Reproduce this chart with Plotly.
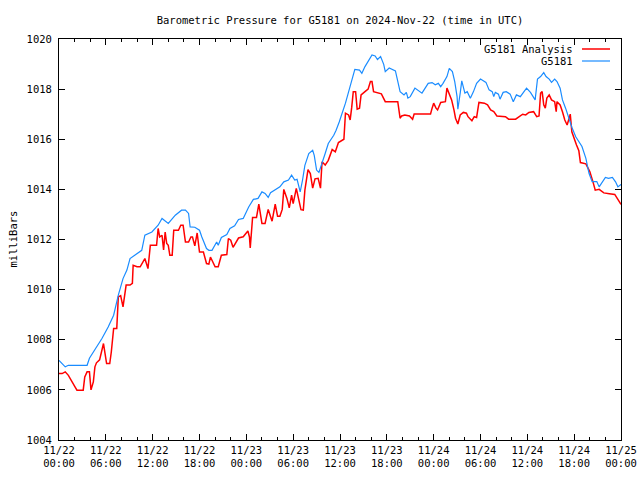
import pandas as pd
import plotly.graph_objects as go

title_text = "Barometric Pressure for G5181 on 2024-Nov-22 (time in UTC)"
start = pd.Timestamp("2024-11-22 00:00")

obs_hours = [0, 0.8, 1.2, 3.6, 3.9, 4.8, 5.5, 6.3, 7.0, 7.6, 8.2, 8.7, 9.1, 9.7, 10.6, 11.0, 11.9,
             12.7, 13.2, 14.0, 14.9, 15.7, 16.2, 16.6, 16.8, 17.4, 18.0, 18.3, 18.9, 19.2, 19.6,
             20.2, 20.4, 20.8, 21.5, 21.9, 22.5, 23.0, 23.6, 24.3, 24.9, 25.5, 26.0, 26.4, 26.8,
             27.1, 27.7, 28.3, 28.8, 29.4, 29.8, 30.2, 30.5, 30.9, 31.2, 31.5, 32.0, 32.5, 32.7,
             33.0, 33.3, 33.7, 34.1, 34.5, 35.2, 35.5, 35.9, 36.7, 37.3, 37.9, 38.5, 38.8, 39.2,
             39.7, 40.1, 40.5, 40.8, 41.2, 41.6, 41.8, 42.3, 43.1, 43.3, 43.7, 44.2, 44.5, 44.7,
             45.0, 45.6, 46.5, 47.3, 47.8, 48.2, 48.6, 48.9, 49.2, 49.7, 50.0, 50.4, 50.7, 51.0,
             51.1, 51.4, 51.6, 52.0, 52.3, 52.7, 53.1, 53.5, 54.0, 54.7, 55.1, 55.5, 55.7, 55.9,
             56.3, 56.5, 56.9, 57.3, 57.8, 58.2, 58.6, 59.1, 59.5, 59.9, 60.4, 60.8, 61.0, 61.3,
             61.7, 62.1, 62.4, 62.8, 63.1, 63.5, 63.8, 64.2, 64.5, 64.9, 65.3, 65.7, 66.2, 66.6,
             67.0, 67.5, 67.9, 68.3, 68.9, 69.2, 69.6, 70.0, 70.4, 70.9, 71.3, 71.6, 72.0]
obs_values = [1007.18, 1006.92, 1006.98, 1006.98, 1007.26, 1007.71, 1008.05, 1008.51, 1008.98,
              1009.78, 1010.44, 1010.78, 1011.24, 1011.37, 1011.57, 1012.17, 1012.30, 1012.57,
              1012.84, 1012.64, 1012.97, 1013.17, 1013.17, 1013.04, 1012.50, 1012.49, 1012.37,
              1012.10, 1011.64, 1011.57, 1011.57, 1011.90, 1011.77, 1012.08, 1012.20, 1012.44,
              1012.55, 1012.80, 1012.84, 1013.30, 1013.60, 1013.64, 1013.90, 1013.84, 1013.68,
              1013.87, 1014.00, 1014.10, 1014.30, 1014.37, 1014.57, 1014.37, 1014.40, 1013.90,
              1014.37, 1014.96, 1015.43, 1015.56, 1015.36, 1014.77, 1014.68, 1015.03, 1015.43,
              1015.83, 1016.16, 1016.36, 1016.69, 1017.44, 1018.17, 1018.79, 1018.76, 1018.63,
              1018.90, 1019.14, 1019.36, 1019.32, 1019.18, 1019.30, 1018.99, 1018.70, 1018.84,
              1018.73, 1018.43, 1017.90, 1017.77, 1017.87, 1017.64, 1017.70, 1018.04, 1017.84,
              1018.23, 1018.26, 1018.17, 1018.23, 1018.10, 1018.23, 1018.50, 1018.83, 1018.70,
              1018.30, 1017.70, 1017.20, 1017.84, 1018.33, 1017.84, 1017.90, 1017.64, 1017.90,
              1018.23, 1018.40, 1018.27, 1017.97, 1017.90, 1017.70, 1017.87, 1017.80, 1017.60,
              1017.87, 1017.90, 1017.80, 1017.50, 1017.77, 1017.70, 1017.87, 1018.04, 1017.87,
              1017.64, 1017.57, 1018.40, 1018.50, 1018.66, 1018.50, 1018.40, 1018.27, 1018.40,
              1018.30, 1018.04, 1017.57, 1017.24, 1016.84, 1016.48, 1016.10, 1015.90, 1015.71,
              1015.24, 1014.64, 1014.31, 1014.31, 1014.10, 1014.27, 1014.48, 1014.44, 1014.48,
              1014.30, 1014.10, 1014.20]

ana_hours = [0, 0.4, 0.8, 1.2, 2.05, 2.3, 3.1, 3.3, 3.6, 3.9, 4.1, 4.4, 4.6, 4.8, 5.2, 5.7, 5.9,
             6.1, 6.5, 6.7, 7.0, 7.4, 7.6, 7.9, 8.2, 8.4, 8.6, 9.1, 9.4, 9.5, 10.0, 10.4, 10.8,
             11.0, 11.2, 11.4, 11.7, 12.3, 12.5, 12.7, 12.9, 13.2, 13.4, 13.6, 13.8, 14.0, 14.2,
             14.5, 14.7, 15.3, 15.6, 15.9, 16.2, 16.6, 16.9, 17.1, 17.4, 17.7, 18.0, 18.5, 18.9,
             19.2, 19.4, 20.0, 20.4, 20.8, 21.5, 21.7, 22.0, 22.3, 23.0, 23.6, 24.2, 24.4, 24.5,
             24.8, 25.3, 25.6, 26.0, 26.4, 26.8, 27.3, 27.7, 28.0, 28.3, 28.6, 28.8, 29.2, 29.5,
             29.8, 30.0, 30.4, 30.7, 31.0, 31.3, 31.5, 31.9, 32.2, 32.5, 32.8, 33.2, 33.5, 33.7,
             34.1, 34.5, 35.0, 35.4, 35.8, 36.5, 36.7, 37.1, 37.3, 37.5, 37.7, 38.0, 38.2, 38.5,
             38.7, 39.2, 39.6, 39.9, 40.1, 40.3, 40.9, 41.3, 41.8, 42.9, 43.4, 43.7, 43.9, 44.3,
             44.9, 45.3, 45.5, 46.2, 47.6, 47.8, 48.0, 48.3, 48.5, 48.9, 49.3, 49.5, 49.7, 49.9,
             50.3, 50.6, 50.8, 51.1, 51.4, 51.8, 52.2, 52.4, 52.9, 53.2, 53.5, 53.8, 54.5, 54.9,
             55.3, 55.7, 56.1, 57.2, 57.6, 58.5, 59.0, 59.4, 59.8, 60.2, 60.8, 61.2, 61.5, 61.7,
             61.9, 62.1, 62.3, 62.5, 62.8, 63.1, 63.5, 63.7, 63.8, 64.2, 64.5, 64.8, 65.1, 65.4,
             65.5, 65.7, 66.0, 66.3, 66.6, 66.8, 67.5, 68.0, 68.4, 68.7, 69.2, 69.8, 70.5, 71.2,
             71.6, 72.0]
ana_values = [1006.65, 1006.65, 1006.72, 1006.58, 1006.12, 1005.99, 1005.99, 1006.52, 1006.72,
              1006.72, 1006.00, 1006.32, 1006.92, 1007.08, 1007.20, 1007.85, 1007.45, 1007.05,
              1007.05, 1007.51, 1008.45, 1008.45, 1009.71, 1009.76, 1009.31, 1009.71, 1010.18,
              1010.18, 1010.25, 1010.97, 1010.91, 1010.91, 1011.17, 1011.24, 1011.04, 1010.84,
              1011.77, 1011.77, 1011.77, 1012.44, 1012.10, 1012.17, 1011.58, 1012.30, 1011.84,
              1011.77, 1011.37, 1011.37, 1012.37, 1012.37, 1012.57, 1012.57, 1011.90, 1011.90,
              1012.10, 1012.10, 1011.75, 1012.26, 1011.50, 1011.50, 1011.04, 1011.02, 1011.30,
              1010.91, 1010.91, 1011.37, 1011.40, 1012.04, 1011.97, 1011.69, 1012.06, 1012.11,
              1012.34, 1012.10, 1011.66, 1012.88, 1012.88, 1013.41, 1012.64, 1012.64, 1013.20,
              1012.73, 1013.41, 1012.93, 1012.93, 1013.20, 1014.00, 1013.64, 1013.26, 1013.77,
              1013.43, 1014.04, 1013.57, 1013.19, 1013.17, 1013.97, 1014.79, 1014.63, 1014.05,
              1014.42, 1014.44, 1014.05, 1015.10, 1014.97, 1015.16, 1015.59, 1015.50, 1015.87,
              1016.00, 1017.04, 1016.97, 1016.77, 1017.27, 1017.90, 1017.90, 1017.20, 1017.24,
              1017.77, 1017.90, 1018.00, 1018.30, 1018.30, 1017.90, 1017.84, 1017.81, 1017.50,
              1017.50, 1017.50, 1016.84, 1016.93, 1016.97, 1016.93, 1016.80, 1017.01, 1017.01,
              1017.01, 1017.24, 1017.44, 1017.24, 1017.17, 1017.47, 1017.50, 1017.50, 1018.04,
              1017.87, 1017.57, 1017.17, 1016.84, 1016.61, 1016.97, 1017.07, 1017.04, 1016.90,
              1016.74, 1016.90, 1016.87, 1017.47, 1017.44, 1017.37, 1017.17, 1017.10, 1016.93,
              1016.90, 1016.80, 1016.80, 1016.90, 1017.00, 1016.97, 1017.07, 1017.10, 1016.90,
              1016.93, 1017.84, 1017.90, 1017.37, 1017.24, 1017.64, 1017.77, 1017.57, 1017.50,
              1017.10, 1017.50, 1017.37, 1017.10, 1016.77, 1016.57, 1016.90, 1017.00, 1016.30,
              1016.00, 1015.77, 1015.54, 1015.07, 1015.02, 1014.71, 1014.31, 1013.97, 1014.00,
              1013.86, 1013.83, 1013.80, 1013.60, 1013.40]

tick_hours = [0, 6, 12, 18, 24, 30, 36, 42, 48, 54, 60, 66, 72]
tick_labels = ["11/22<br>00:00", "11/22<br>06:00", "11/22<br>12:00", "11/22<br>18:00",
               "11/23<br>00:00", "11/23<br>06:00", "11/23<br>12:00", "11/23<br>18:00",
               "11/24<br>00:00", "11/24<br>06:00", "11/24<br>12:00", "11/24<br>18:00",
               "11/25<br>00:00"]
y_ticks = [1004, 1006, 1008, 1010, 1012, 1014, 1016, 1018, 1020]

def to_time(hours):
    return [start + pd.Timedelta(hours=h) for h in hours]

FONT = "DejaVu Sans Mono"
RED = "#ff0000"
BLUE = "#1a8cff"

fig = go.Figure()
fig.add_trace(go.Scatter(x=to_time(ana_hours), y=ana_values, mode="lines",
                         name="G5181 Analysis", line=dict(color=RED, width=1.5)))
fig.add_trace(go.Scatter(x=to_time(obs_hours), y=obs_values, mode="lines",
                         name="G5181", line=dict(color=BLUE, width=1.2)))

fig.update_layout(
    width=640, height=480,
    margin=dict(l=59, r=19, t=39, b=40, autoexpand=False),
    paper_bgcolor="white", plot_bgcolor="white",
    showlegend=False,
    font=dict(family=FONT, size=10, color="black"),
    title=dict(text=title_text, x=340 / 640, xanchor="center",
               y=1 - 20 / 480, yanchor="middle", font=dict(family=FONT, size=10.5),
               automargin=False),
)
fig.update_xaxes(
    type="date", automargin=False,
    range=[start, start + pd.Timedelta(hours=72)],
    tickvals=to_time(tick_hours), ticktext=tick_labels,
    ticks="inside", ticklen=6, tickcolor="black", tickwidth=1,
    minor=dict(dtick=2 * 3600 * 1000, ticks="inside", ticklen=3, tickcolor="black", showgrid=False),
    showline=True, linecolor="black", linewidth=1, mirror="ticks",
    showgrid=False, zeroline=False,
    tickfont=dict(family=FONT, size=10.5),
)
fig.update_yaxes(
    automargin=False,
    range=[1004, 1020], tickvals=y_ticks, ticktext=[str(v) for v in y_ticks],
    ticks="inside", ticklen=6, tickcolor="black", tickwidth=1,
    showline=True, linecolor="black", linewidth=1, mirror="ticks",
    showgrid=False, zeroline=False,
    tickfont=dict(family=FONT, size=10.5), ticklabelstandoff=4,
)

# y-axis label
fig.add_annotation(text="milliBars", xref="paper", yref="paper",
                   x=(12 - 59) / 562, y=0.5, xanchor="center", yanchor="middle",
                   textangle=-90, showarrow=False, font=dict(family=FONT, size=10.5))

# gnuplot-style legend (text right, sample line to its right)
legend_items = [("G5181 Analysis", RED, 1.5), ("G5181", BLUE, 1.2)]
for i, (lab, col, w) in enumerate(legend_items):
    ypx = 49 + 12 * i
    yp = 1 - (ypx - 39) / 401
    fig.add_annotation(text=lab, xref="paper", yref="paper",
                       x=(575 - 59) / 562, y=yp, xanchor="right", yanchor="middle",
                       showarrow=False, font=dict(family=FONT, size=10.5))
    fig.add_shape(type="line", xref="paper", yref="paper",
                  x0=(582 - 59) / 562, x1=(610 - 59) / 562, y0=yp, y1=yp,
                  line=dict(color=col, width=w))

fig.write_html("out.html", config={"displayModeBar": False},
               post_script="document.body.style.margin='0';document.body.style.padding='0';")
